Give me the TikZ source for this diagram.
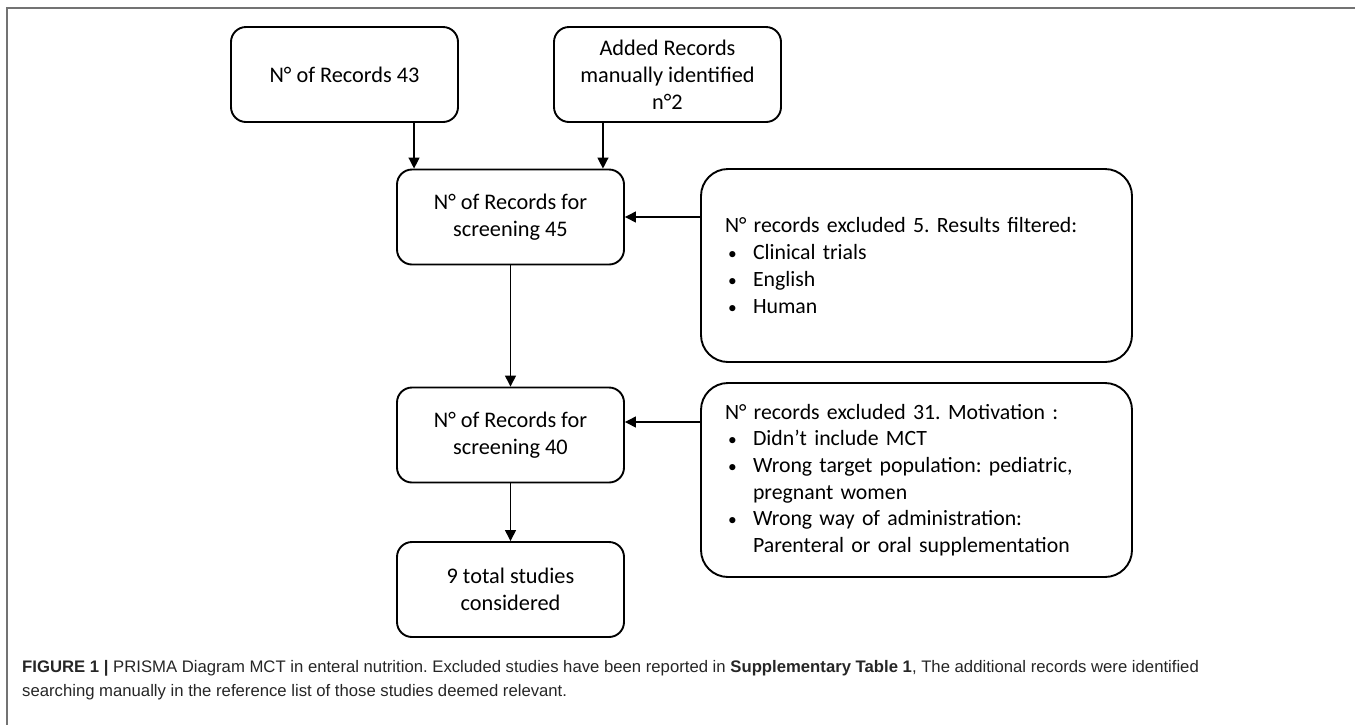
\documentclass[tikz,border=0pt]{standalone}
\usepackage{fontspec}
\setmainfont{Carlito}
\newfontfamily\capfont{Liberation Sans}
\usetikzlibrary{arrows.meta}
\tikzset{>={Triangle[length=11pt,width=11pt]}}
\tikzset{
  stage/.style = {
    draw, line width=1.9pt, rounded corners=15pt,
    minimum width=227pt, minimum height=95pt,
    align=center, font=\fontsize{22.3}{27}\selectfont
  },
  excluded/.style = {
    draw, line width=1.9pt, rounded corners=27pt,
    text width=383pt, inner xsep=24pt, align=left,
    font=\fontsize{21.8}{26.7}\selectfont
  },
  flow/.style = {->, line width=1.3pt}
}
\newcommand{\bitem}[1]{\hspace*{3pt}\makebox[25pt][l]{\scalebox{0.8}{\textbullet}}#1}
\newcommand{\bcont}[1]{\hspace*{28pt}#1}
\frenchspacing

\begin{document}
\begin{tikzpicture}[x=1pt,y=1pt]
  \useasboundingbox (0,0) rectangle (1355,-724);
  \draw[black!55, line width=1.5pt] (7,-740) -- (7,-8) -- (1370,-8);

  \node[stage] (records) at (344.5,-74.5) {N° of Records 43};
  \node[stage] (added) at (667.5,-74.5) {Added Records\\manually identified\\n°2};
  \node[stage] (screen1) at (510.5,-217) {N° of Records for\\screening 45};
  \node[stage] (screen2) at (510.5,-435) {N° of Records for\\screening 40};
  \node[stage] (total) at (510.5,-589.5) {9 total studies\\considered};

  \node[excluded, minimum height=193pt] (filter) at (916.5,-265.5) {%
    N° records excluded 5. Results filtered:\\
    \bitem{Clinical trials}\\
    \bitem{English}\\
    \bitem{Human}};
  \node[excluded, minimum height=194pt] (motive) at (916.5,-480) {%
    N° records excluded 31. Motivation :\\
    \bitem{Didn’t include MCT}\\
    \bitem{Wrong target population: pediatric,}\\
    \bcont{pregnant women}\\
    \bitem{Wrong way of administration:}\\
    \bcont{Parenteral or oral supplementation}};

  % arrows
  \draw[flow] ([xshift=18pt]screen1.north west |- records.south) -- ([xshift=18pt]screen1.north west);
  \draw[flow] ([xshift=-22pt]screen1.north east |- added.south) -- ([xshift=-22pt]screen1.north east);
  \draw[flow] (filter.west |- screen1.east) -- (screen1.east);
  \draw[flow] (screen1) -- (screen2);
  \draw[flow] (motive.west |- screen2.east) ++(0,13) -- ([yshift=13pt]screen2.east);
  \draw[flow] (screen2) -- (total);

  \node[anchor=base west, align=left, text=black!85, inner sep=0pt,
    font=\capfont\fontsize{16.7}{24}\selectfont] (caption) at (22,-696)
    {\textbf{FIGURE 1 |} PRISMA Diagram MCT in enteral nutrition. Excluded studies have been reported in \textbf{Supplementary Table 1}, The additional records were identified\\
     searching manually in the reference list of those studies deemed relevant.};
\end{tikzpicture}
\end{document}
